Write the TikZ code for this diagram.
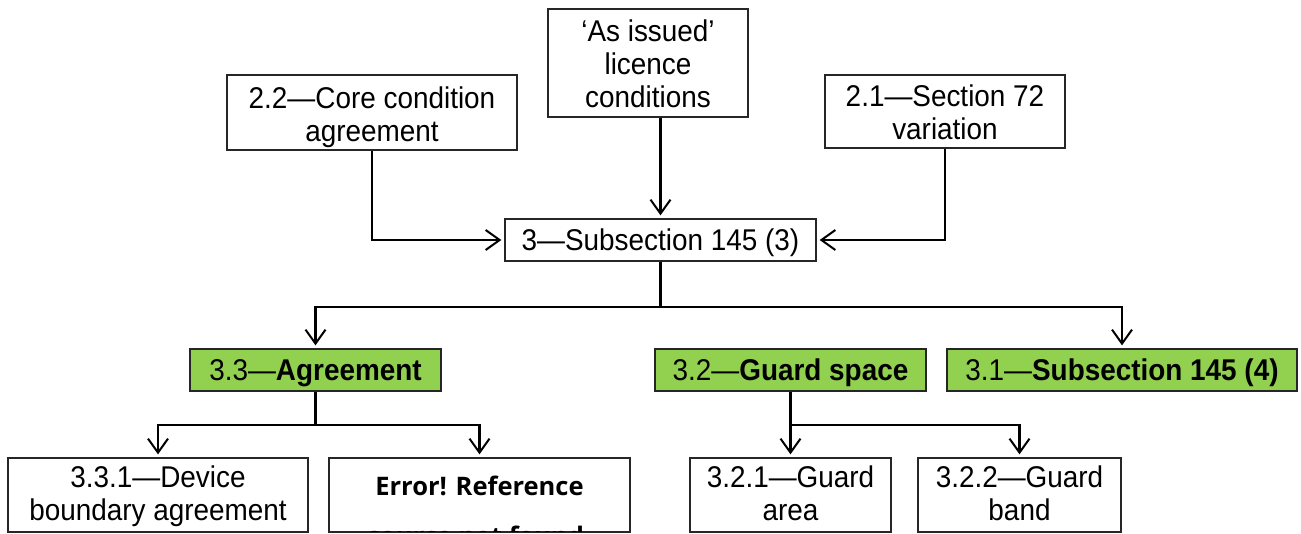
\documentclass[tikz,border=0pt]{standalone}
\usepackage{graphicx}
\usepackage{fontspec}
\setmainfont{Liberation Sans}
\newfontfamily\errfont{Open Sans}
\usetikzlibrary{arrows.meta}
\definecolor{boxgreen}{HTML}{92D050}
\definecolor{boxline}{HTML}{262626}
\newcommand\nx[1]{\scalebox{0.93}[1]{#1}}
\tikzset{
  box/.style={draw=boxline, line width=1.3pt, inner sep=0pt, align=center,
    text height=20pt, text depth=0pt,
    font=\fontsize{30}{33}\selectfont},
  lastbase/.style={text height=#1, text depth=0pt},
  greenbox/.style={box, fill=boxgreen},
  conn/.style={line width=2.1pt},
  arr/.style={conn, -{Straight Barb[length=14pt, width=20pt, line width=2pt]}, shorten >=3pt},
  errtext/.style={anchor=base, inner sep=0pt, font={\errfont\bfseries\fontsize{25.5}{30}\selectfont}},
}
\begin{document}
\begin{tikzpicture}[x=1pt, y=-1pt]
\useasboundingbox (0,0) rectangle (1301,533);
% top row
\node[box, lastbase=88pt, minimum width=200pt, minimum height=108pt] (asis) at (648,63) {\nx{‘As issued’}\\\nx{licence}\\\nx{conditions}};
\node[box, lastbase=58pt, minimum width=290pt, minimum height=75pt] (core) at (372,112.5) {\nx{2.2—Core condition}\\\nx{agreement}};
\node[box, lastbase=55pt, minimum width=240pt, minimum height=73pt] (s72) at (945,111.5) {\nx{2.1—Section 72}\\\nx{variation}};
% middle
\node[box, minimum width=311pt, minimum height=42pt] (sub3) at (660.5,240) {\nx{3—Subsection 145 (3)}};
% green row
\node[greenbox, minimum width=251pt, minimum height=42pt] (g33) at (315.5,370) {\nx{3.3—\textbf{Agreement}}};
\node[greenbox, minimum width=271pt, minimum height=42pt] (g32) at (790.5,370) {\nx{3.2—\textbf{Guard space}}};
\node[greenbox, minimum width=350pt, minimum height=42pt] (g31) at (1122,370) {\nx{3.1—\textbf{Subsection 145 (4)}}};
% bottom row
\node[box, lastbase=50pt, minimum width=300pt, minimum height=74pt] (b331) at (158,495) {\nx{3.3.1—Device}\\\nx{boundary agreement}};
\node[box, minimum width=301pt, minimum height=74pt] (err) at (479.5,495) {};
\begin{scope}
  \clip (329,458.7) rectangle (630,531.3);
  \node[errtext] (errA) at (479.5,495) {Error! Reference};
  \node[errtext] (errB) at (479.5,545) {source not found.};
\end{scope}
\node[box, lastbase=50pt, minimum width=201pt, minimum height=74pt] (b321) at (790.5,495) {\nx{3.2.1—Guard}\\\nx{area}};
\node[box, lastbase=50pt, minimum width=203pt, minimum height=74pt] (b322) at (1019.5,495) {\nx{3.2.2—Guard}\\\nx{band}};
% connectors
\draw[arr] (core.south) |- (sub3.west);
\draw[arr] (asis.south -| sub3.north) -- (sub3.north);
\draw[arr] (s72.south) |- (sub3.east);
\path (sub3.south) ++(0,45) coordinate (j1);
\draw[conn] (sub3.south) -- (j1);
\draw[arr] (j1) -| (g33.north);
\draw[arr] (j1) -| (g31.north);
\path (g33.south) ++(0,33) coordinate (j2);
\draw[conn] (g33.south) -- (j2);
\draw[arr] (j2) -| (b331.north);
\draw[arr] (j2) -| (err.north);
\path (g32.south) ++(0,33) coordinate (j3);
\draw[conn] (g32.south) -- (j3);
\draw[arr] (j3) -| (b321.north);
\draw[arr] (j3) -| (b322.north);
\end{tikzpicture}
\end{document}
